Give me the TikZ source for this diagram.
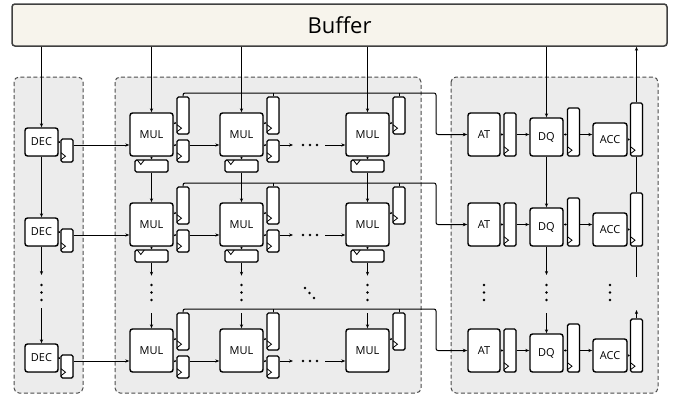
\documentclass[tikz,border=0pt]{standalone}
\usepackage{fontspec}
\setmainfont{Open Sans}
\usetikzlibrary{arrows.meta,shadows,calc}

\definecolor{buffill}{RGB}{247,244,236}
\definecolor{grpfill}{RGB}{236,236,236}

\tikzset{
  shad/.style={drop shadow={shadow xshift=0.9pt,shadow yshift=-0.9pt,opacity=0.3}},
  blk/.style={draw,line width=1.4pt,rounded corners=2.5pt,fill=white,inner sep=0pt,
    font=\fontsize{11}{11}\selectfont,shad},
  regv/.style={draw,line width=1.4pt,rounded corners=1.5pt,fill=white,inner sep=0pt,
    minimum width=12,shad},
  regh/.style={draw,line width=1.4pt,rounded corners=1.5pt,fill=white,inner sep=0pt,
    minimum height=12,shad},
  clk/.style={line width=0.8pt},
  grp/.style={draw=black!70,fill=grpfill,line width=1pt,rounded corners=5pt,
    dash pattern=on 4pt off 2.5pt},
  buffer/.style={draw=black!75,fill=buffill,line width=1.5pt,rounded corners=3pt,
    minimum width=655,minimum height=42,font=\fontsize{22}{22}\selectfont,shad},
  flow/.style={line width=0.7pt,-{Stealth[length=4pt,width=3.2pt]}},
  tap/.style={line width=0.7pt,-{Stealth[length=2pt,width=2.5pt]}},
  link/.style={line width=0.7pt},
  sum/.style={line width=1pt,rounded corners=2pt,-{Stealth[length=4.5pt,width=3.6pt]}}
}
% clock marks of the registers
\newcommand{\clkv}[1]{\draw[clk] ([shift={(0.7pt,3pt)}]#1.south west) -- ++(4.5pt,3.5pt) -- ++(-4.5pt,3.5pt);}
\newcommand{\clkh}[1]{\draw[clk] ([shift={(3pt,-0.7pt)}]#1.north west) -- ++(3.5pt,-4.5pt) -- ++(3.5pt,4.5pt);}

\begin{document}
\begin{tikzpicture}[x=1pt,y=-1pt]
\useasboundingbox (0,0) rectangle (683,399);
% Groups
\draw[grp] (14,77) rectangle (83,393);
\draw[grp] (115,77) rectangle (421,393);
\draw[grp] (451,77) rectangle (658,393);
% Buffer
\node[buffer] (buf) at (339.5,25) {Buffer};
% Rows
\foreach \rw/\ty in {1/113,2/203,3/329}{
  \coordinate (h\rw) at (0,\ty+32);
  \coordinate (g\rw) at (0,\ty+10);
  \coordinate (m\rw) at (0,\ty+21.5);
  \coordinate (bend\rw) at (436,\ty-20);
  % decoder
  \node[blk,minimum width=33,minimum height=28] (dec\rw) at (41.5,\ty+29) {DEC};
  \node[regv,minimum height=23] (dr\rw) at (67,\ty+37.5) {}; \clkv{dr\rw}
  \draw[tap] (dec\rw.east) -- (dec\rw.east -| dr\rw.west);
  % multiplier array
  \foreach \cl/\cx in {1/130,2/220,3/346}{
    \node[blk,minimum width=43,minimum height=43] (mul\rw\cl) at (\cx+21.5,\ty+21.5) {MUL};
    \node[regv,minimum height=37] (ps\rw\cl) at (\cx+53,\ty+2.5) {}; \clkv{ps\rw\cl}
    \draw[tap] (mul\rw\cl.east |- g\rw) -- (ps\rw\cl.west |- g\rw);
    \ifnum\cl<3
      \node[regv,minimum height=22] (pa\rw\cl) at (\cx+53,\ty+38) {}; \clkv{pa\rw\cl}
      \draw[tap] (mul\rw\cl.east |- h\rw) -- (pa\rw\cl.west |- h\rw);
    \fi
    \ifnum\rw<3
      \node[regh,minimum width=33] (pd\rw\cl) at (\cx+21.5,\ty+53) {}; \clkh{pd\rw\cl}
      \draw[tap] (mul\rw\cl.south) -- (pd\rw\cl.north);
    \fi
  }
  \draw[flow] (dr\rw.east |- h\rw) -- (mul\rw1.west |- h\rw);
  \draw[flow] (pa\rw1.east |- h\rw) -- (mul\rw2.west |- h\rw);
  \coordinate (mr\rw) at (293,\ty+32);
  \coordinate (ml\rw) at (325,\ty+32);
  \draw[flow] (pa\rw2.east |- h\rw) -- (mr\rw);
  \foreach \xx in {303,310,317} \fill (\xx,\ty+32) circle (1.4);
  \draw[flow] (ml\rw) -- (mul\rw3.west |- h\rw);
  % post-processing
  \node[blk,minimum width=32,minimum height=43] (at\rw) at (484,\ty+21.5) {AT};
  \node[regv,minimum height=43] (ar\rw) at (510,\ty+21.5) {}; \clkv{ar\rw}
  \node[blk,minimum width=33,minimum height=38] (dq\rw) at (546.5,\ty+24) {DQ};
  \node[regv,minimum height=48] (dqr\rw) at (573.5,\ty+19) {}; \clkv{dqr\rw}
  \node[blk,minimum width=34,minimum height=33] (ac\rw) at (610,\ty+26.5) {ACC};
  \node[regv,minimum height=53] (acr\rw) at (636.5,\ty+16.5) {}; \clkv{acr\rw}
  \draw[tap] (at\rw.east |- m\rw) -- (ar\rw.west |- m\rw);
  \draw[flow] (ar\rw.east |- m\rw) -- (dq\rw.west |- m\rw);
  \draw[tap] (dq\rw.east |- m\rw) -- (dqr\rw.west |- m\rw);
  \draw[flow] (dqr\rw.east |- m\rw) -- (ac\rw.west |- m\rw);
  \draw[tap] (ac\rw.east) -- (ac\rw.east -| acr\rw.west);
  % partial sums to AT
  \draw[sum] (ps\rw1.north) |- (bend\rw) |- (at\rw.west);
  \draw[link] (ps\rw2.north) -- (ps\rw2.north |- bend\rw);
  \draw[link] (ps\rw3.north) -- (ps\rw3.north |- bend\rw);
}
% Buffer feeds
\draw[flow,line width=1.1pt] (dec1.north |- buf.south) -- (dec1.north);
\foreach \cl in {1,2,3}
  \draw[flow] (mul1\cl.north |- buf.south) -- (mul1\cl.north);
\draw[flow,line width=0.9pt] (dq1.north |- buf.south) -- (dq1.north);
\draw[flow,line width=1.3pt] (acr1.north) -- (acr1.north |- buf.south);
% Vertical chains
\draw[flow] (dec1) -- (dec2);
\coordinate (dvA) at (41.5,275);
\coordinate (dvB) at (41.5,308);
\draw[flow] (dec2) -- (dvA);
\draw[flow] (dvB) -- (dec3);
\foreach \cl in {1,2,3}{
  \draw[flow] (pd1\cl) -- (mul2\cl);
  \coordinate (vd\cl) at ($(pd2\cl.south)+(0,13)$);
  \coordinate (vu\cl) at ($(mul3\cl.north)+(0,-15)$);
  \draw[flow] (pd2\cl) -- (vd\cl);
  \draw[flow] (vu\cl) -- (mul3\cl);
}
\draw[flow] (dq1) -- (dq2);
\coordinate (qd) at (546.5,275);
\coordinate (qu) at (546.5,313);
\draw[flow] (dq2) -- (qd);
\draw[flow] (qu) -- (dq3);
\draw[link,line width=1pt] (acr2.north) -- (acr1.south);
\coordinate (ad) at (636.5,277);
\coordinate (au) at (636.5,310);
\draw[link,line width=1pt] (acr2.south) -- (ad);
\draw[flow] (acr3.north) -- (au);
% Dots
\foreach \xx in {41.5,151.5,241.5,367.5,484,546.5,610}
  \foreach \yy in {285,292.5,300}
    \fill (\xx,\yy) circle (1.4);
\foreach \xx/\yy in {305/288,309.5/293,314/298}
  \fill (\xx,\yy) circle (1.4);
\end{tikzpicture}
\end{document}
